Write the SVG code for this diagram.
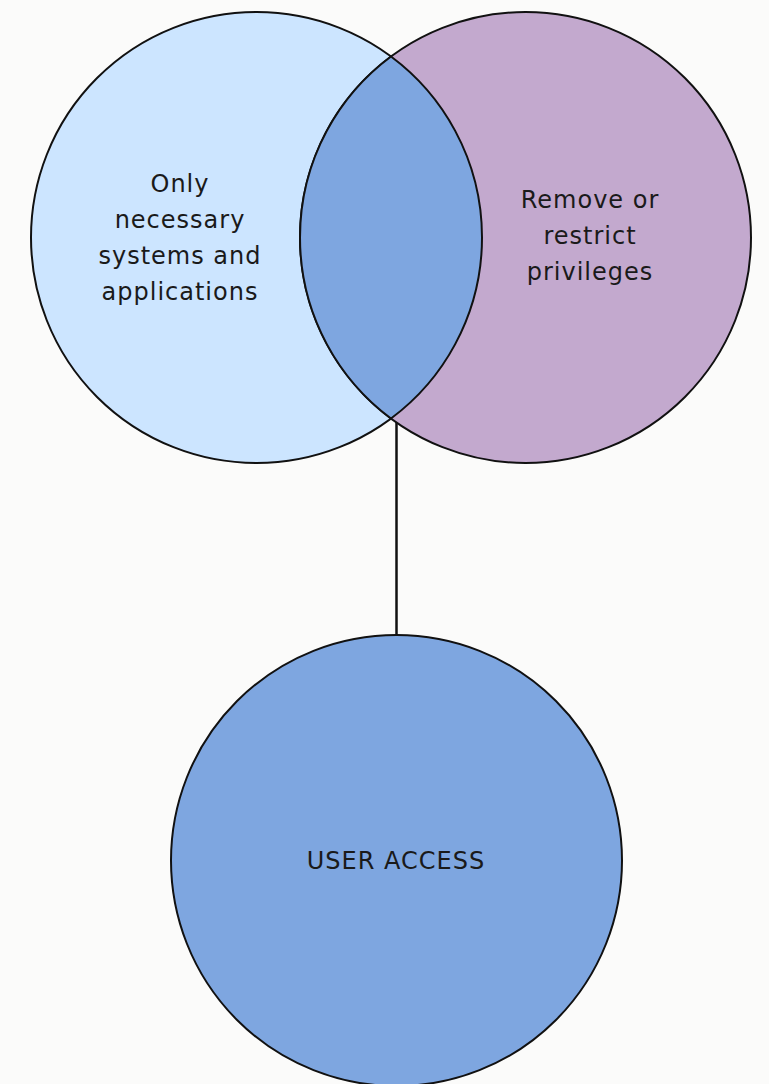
<svg xmlns="http://www.w3.org/2000/svg" width="769" height="1084" viewBox="0 0 769 1084">
  <style>
    .shape { stroke: #111; stroke-width: 2; }
    .label { font-family: "DejaVu Sans", Verdana, sans-serif; font-size: 24px; fill: #1a1a1a; text-anchor: middle; letter-spacing: 1px; }
  </style>
  <rect width="769" height="1084" fill="#fbfbfa"/>

  <g id="connectors">
    <line x1="396.5" y1="419" x2="396.5" y2="635" stroke="#111" stroke-width="2.5"/>
  </g>

  <g id="node-systems">
    <circle class="shape" cx="256.5" cy="237.5" r="225.5" fill="#cce5ff"/>
  </g>

  <g id="node-privileges">
    <circle class="shape" cx="525.5" cy="237.5" r="225.5" fill="#c3a9ce"/>
  </g>

  <g id="node-overlap">
    <path class="shape" fill="#7ea6e0" d="M 391 56.5 A 225.5 225.5 0 0 1 391 418.5 A 225.5 225.5 0 0 1 391 56.5 Z"/>
  </g>

  <g id="label-systems">
    <text class="label" x="180" y="192">Only</text>
    <text class="label" x="180" y="228">necessary</text>
    <text class="label" x="180" y="264">systems and</text>
    <text class="label" x="180" y="300">applications</text>
  </g>

  <g id="label-privileges">
    <text class="label" x="590" y="208">Remove or</text>
    <text class="label" x="590" y="244">restrict</text>
    <text class="label" x="590" y="280">privileges</text>
  </g>

  <g id="node-user-access">
    <circle class="shape" cx="396.5" cy="860.5" r="225.5" fill="#7ea6e0"/>
    <text class="label" x="396" y="869">USER ACCESS</text>
  </g>
</svg>
